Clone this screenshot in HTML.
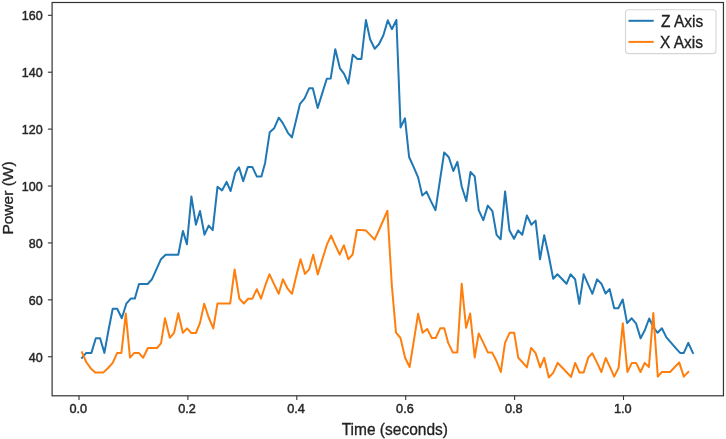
<!DOCTYPE html>
<html><head><meta charset="utf-8"><style>
html,body{margin:0;padding:0;background:#fff;}
body{width:726px;height:439px;overflow:hidden;}
svg{display:block;font-family:"Liberation Sans", sans-serif;filter:blur(0.3px);}
.t{fill:#222;stroke:#222;stroke-width:0.3px;}
.k{fill:#262626;stroke:#262626;stroke-width:0.45px;}
</style></head><body>
<svg width="726" height="439" viewBox="0 0 726 439">
<rect x="0" y="0" width="726" height="439" fill="#fff"/>
<polyline points="82.0,357.8 86.2,352.9 91.4,352.9 95.8,338.3 100.1,338.3 104.4,352.9 108.4,330.8 112.7,308.8 117.2,308.8 121.8,318.3 126.3,303.7 130.8,298.6 134.8,298.6 139.0,284.0 143.4,284.0 147.6,284.0 152.0,279.2 156.5,269.2 161.0,259.2 165.6,254.7 170.0,254.7 174.2,254.7 178.3,254.7 182.9,230.9 186.9,244.3 191.4,196.4 195.9,224.7 200.0,211.0 204.5,234.7 208.7,225.6 212.7,230.2 217.5,186.8 222.0,190.4 226.6,181.9 230.6,191.0 235.2,172.7 239.0,167.4 243.2,181.1 247.8,166.9 252.3,166.9 256.9,176.6 261.4,176.6 265.1,162.9 269.7,132.3 274.2,128.2 278.8,117.7 282.8,123.1 287.9,132.8 291.9,137.4 296.0,120.5 300.0,103.8 304.6,98.3 309.1,88.3 312.8,88.3 317.7,108.0 322.2,93.4 326.8,78.8 330.7,78.6 335.3,49.2 340.0,68.4 344.1,73.8 348.3,83.6 352.8,54.7 357.4,58.9 361.4,58.9 365.9,20.0 370.1,39.2 374.7,48.8 378.9,44.3 383.3,35.5 387.8,20.3 391.9,29.2 396.4,20.0 400.6,127.4 405.0,118.3 409.1,157.0 413.8,167.4 418.1,177.4 422.3,195.6 426.5,191.6 430.9,201.1 435.5,210.2 439.8,181.3 444.2,152.4 448.8,157.3 453.3,171.0 457.4,161.9 461.7,186.5 466.3,201.0 470.5,171.9 474.7,176.4 478.7,210.2 483.3,220.2 487.8,205.6 492.4,211.1 496.6,234.8 500.6,239.3 505.1,191.4 509.4,230.2 514.0,238.8 518.1,230.5 522.3,234.7 526.9,215.5 531.4,224.7 535.6,220.6 540.0,259.3 544.2,235.2 548.8,256.0 553.2,278.7 557.4,274.3 561.8,278.7 566.5,283.8 570.5,274.3 575.1,279.2 579.3,303.8 583.7,274.3 587.9,283.8 592.4,293.8 597.1,279.4 601.4,283.7 605.6,293.5 609.6,289.1 614.2,308.3 618.3,308.3 622.7,299.5 627.1,323.1 631.7,318.3 636.0,323.3 640.6,338.4 645.0,329.7 649.2,318.5 653.6,327.5 657.6,332.8 661.9,328.3 666.4,337.4 671.0,342.6 675.5,347.8 680.1,352.9 683.8,352.9 688.3,342.9 692.9,352.9" fill="none" stroke="#1f77b4" stroke-width="2.0" stroke-linejoin="round" stroke-linecap="square"/>
<polyline points="82.0,352.3 86.2,362.0 90.8,368.4 95.3,372.4 99.5,372.4 103.5,372.4 108.1,368.0 112.7,362.9 117.2,352.9 121.4,352.9 125.8,313.6 130.0,357.6 134.3,352.9 138.8,352.9 143.1,357.8 147.9,348.0 152.3,348.0 157.0,348.0 161.0,343.3 165.0,318.3 169.8,337.8 174.1,332.9 178.3,313.3 182.9,332.9 187.0,328.4 191.4,333.0 195.9,333.0 200.0,322.9 204.2,303.8 208.7,317.5 213.3,328.4 217.5,303.4 221.5,303.4 226.0,303.4 230.2,303.4 234.6,269.5 239.3,298.5 243.8,303.5 248.2,298.7 252.4,298.7 256.8,289.2 261.0,298.7 265.5,284.7 269.5,274.3 274.3,284.7 278.7,293.8 282.9,279.2 287.4,288.3 292.0,293.8 296.0,277.0 300.5,259.3 305.0,273.9 309.2,269.3 313.2,254.7 317.8,274.4 322.3,259.5 326.9,244.7 331.1,235.6 335.5,245.6 339.7,254.7 343.9,245.2 348.3,259.3 352.6,254.5 356.9,230.0 361.3,230.0 366.0,230.6 370.4,235.1 374.6,239.7 379.0,230.0 383.2,220.5 387.4,210.7 391.8,285.0 396.0,332.7 400.5,338.0 405.1,357.8 409.6,367.0 413.9,340.4 418.1,313.8 422.6,332.7 427.2,328.9 431.8,338.0 435.7,338.0 440.2,328.3 444.3,328.3 448.2,342.9 452.8,352.4 457.3,352.4 461.7,283.7 466.1,327.8 470.2,313.5 474.7,357.5 478.7,333.4 483.4,342.9 487.8,352.4 492.0,352.4 496.5,361.0 500.8,372.0 505.0,342.8 509.6,332.8 514.2,332.8 518.3,357.8 522.7,362.5 526.9,367.4 531.1,347.9 535.5,352.9 540.2,367.4 544.2,357.8 548.8,377.5 553.2,372.9 557.7,362.9 562.4,367.8 566.4,372.0 571.0,376.9 575.2,362.9 579.5,372.5 583.7,372.5 588.3,357.4 592.3,353.2 597.1,362.9 601.4,372.0 605.7,358.0 610.0,367.1 614.2,376.6 618.6,367.8 622.8,323.3 627.4,372.0 631.9,362.9 636.1,362.9 640.5,372.0 644.7,362.9 648.9,367.1 653.3,313.1 657.8,376.6 661.9,372.0 666.0,372.0 670.1,372.0 674.6,367.2 679.2,362.4 683.8,376.6 688.3,372.0" fill="none" stroke="#ff7f0e" stroke-width="2.0" stroke-linejoin="round" stroke-linecap="square"/>
<rect x="52.1" y="2.5" width="671.35" height="393.30" fill="none" stroke="#333" stroke-width="1.2"/>
<line x1="47.90" y1="356.75" x2="52.1" y2="356.75" stroke="#333" stroke-width="1.1"/>
<text x="42.7" y="361.85" text-anchor="end" font-size="12.5" class="k">40</text>
<line x1="47.90" y1="299.84" x2="52.1" y2="299.84" stroke="#333" stroke-width="1.1"/>
<text x="42.7" y="304.94" text-anchor="end" font-size="12.5" class="k">60</text>
<line x1="47.90" y1="242.93" x2="52.1" y2="242.93" stroke="#333" stroke-width="1.1"/>
<text x="42.7" y="248.03" text-anchor="end" font-size="12.5" class="k">80</text>
<line x1="47.90" y1="186.03" x2="52.1" y2="186.03" stroke="#333" stroke-width="1.1"/>
<text x="42.7" y="191.13" text-anchor="end" font-size="12.5" class="k">100</text>
<line x1="47.90" y1="129.12" x2="52.1" y2="129.12" stroke="#333" stroke-width="1.1"/>
<text x="42.7" y="134.22" text-anchor="end" font-size="12.5" class="k">120</text>
<line x1="47.90" y1="72.21" x2="52.1" y2="72.21" stroke="#333" stroke-width="1.1"/>
<text x="42.7" y="77.31" text-anchor="end" font-size="12.5" class="k">140</text>
<line x1="47.90" y1="15.30" x2="52.1" y2="15.30" stroke="#333" stroke-width="1.1"/>
<text x="42.7" y="20.40" text-anchor="end" font-size="12.5" class="k">160</text>
<line x1="79.00" y1="395.8" x2="79.00" y2="400.00" stroke="#333" stroke-width="1.1"/>
<text x="78.20" y="413.2" text-anchor="middle" font-size="12.7" class="k">0.0</text>
<line x1="187.90" y1="395.8" x2="187.90" y2="400.00" stroke="#333" stroke-width="1.1"/>
<text x="187.10" y="413.2" text-anchor="middle" font-size="12.7" class="k">0.2</text>
<line x1="296.80" y1="395.8" x2="296.80" y2="400.00" stroke="#333" stroke-width="1.1"/>
<text x="296.00" y="413.2" text-anchor="middle" font-size="12.7" class="k">0.4</text>
<line x1="405.70" y1="395.8" x2="405.70" y2="400.00" stroke="#333" stroke-width="1.1"/>
<text x="404.90" y="413.2" text-anchor="middle" font-size="12.7" class="k">0.6</text>
<line x1="514.60" y1="395.8" x2="514.60" y2="400.00" stroke="#333" stroke-width="1.1"/>
<text x="513.80" y="413.2" text-anchor="middle" font-size="12.7" class="k">0.8</text>
<line x1="623.50" y1="395.8" x2="623.50" y2="400.00" stroke="#333" stroke-width="1.1"/>
<text x="622.70" y="413.2" text-anchor="middle" font-size="12.7" class="k">1.0</text>
<text transform="translate(394.8,434.6) scale(1,1.07)" text-anchor="middle" font-size="15.5" class="t">Time (seconds)</text>
<text transform="translate(13.0,198.0) rotate(-90)" text-anchor="middle" font-size="15.5" class="t">Power (W)</text>
<rect x="625.5" y="9.8" width="90.5" height="43.8" rx="3" ry="3" fill="#fff" fill-opacity="0.8" stroke="#d6d6d6" stroke-width="1.1"/>
<line x1="628.5" y1="20.8" x2="653.7" y2="20.8" stroke="#1f77b4" stroke-width="2.0"/>
<line x1="628.5" y1="41.9" x2="653.7" y2="41.9" stroke="#ff7f0e" stroke-width="2.0"/>
<text transform="translate(661,26.5) scale(1,1.07)" font-size="15.5" class="t">Z Axis</text>
<text transform="translate(660,47.9) scale(1,1.07)" font-size="15.5" class="t">X Axis</text>
</svg>
</body></html>
